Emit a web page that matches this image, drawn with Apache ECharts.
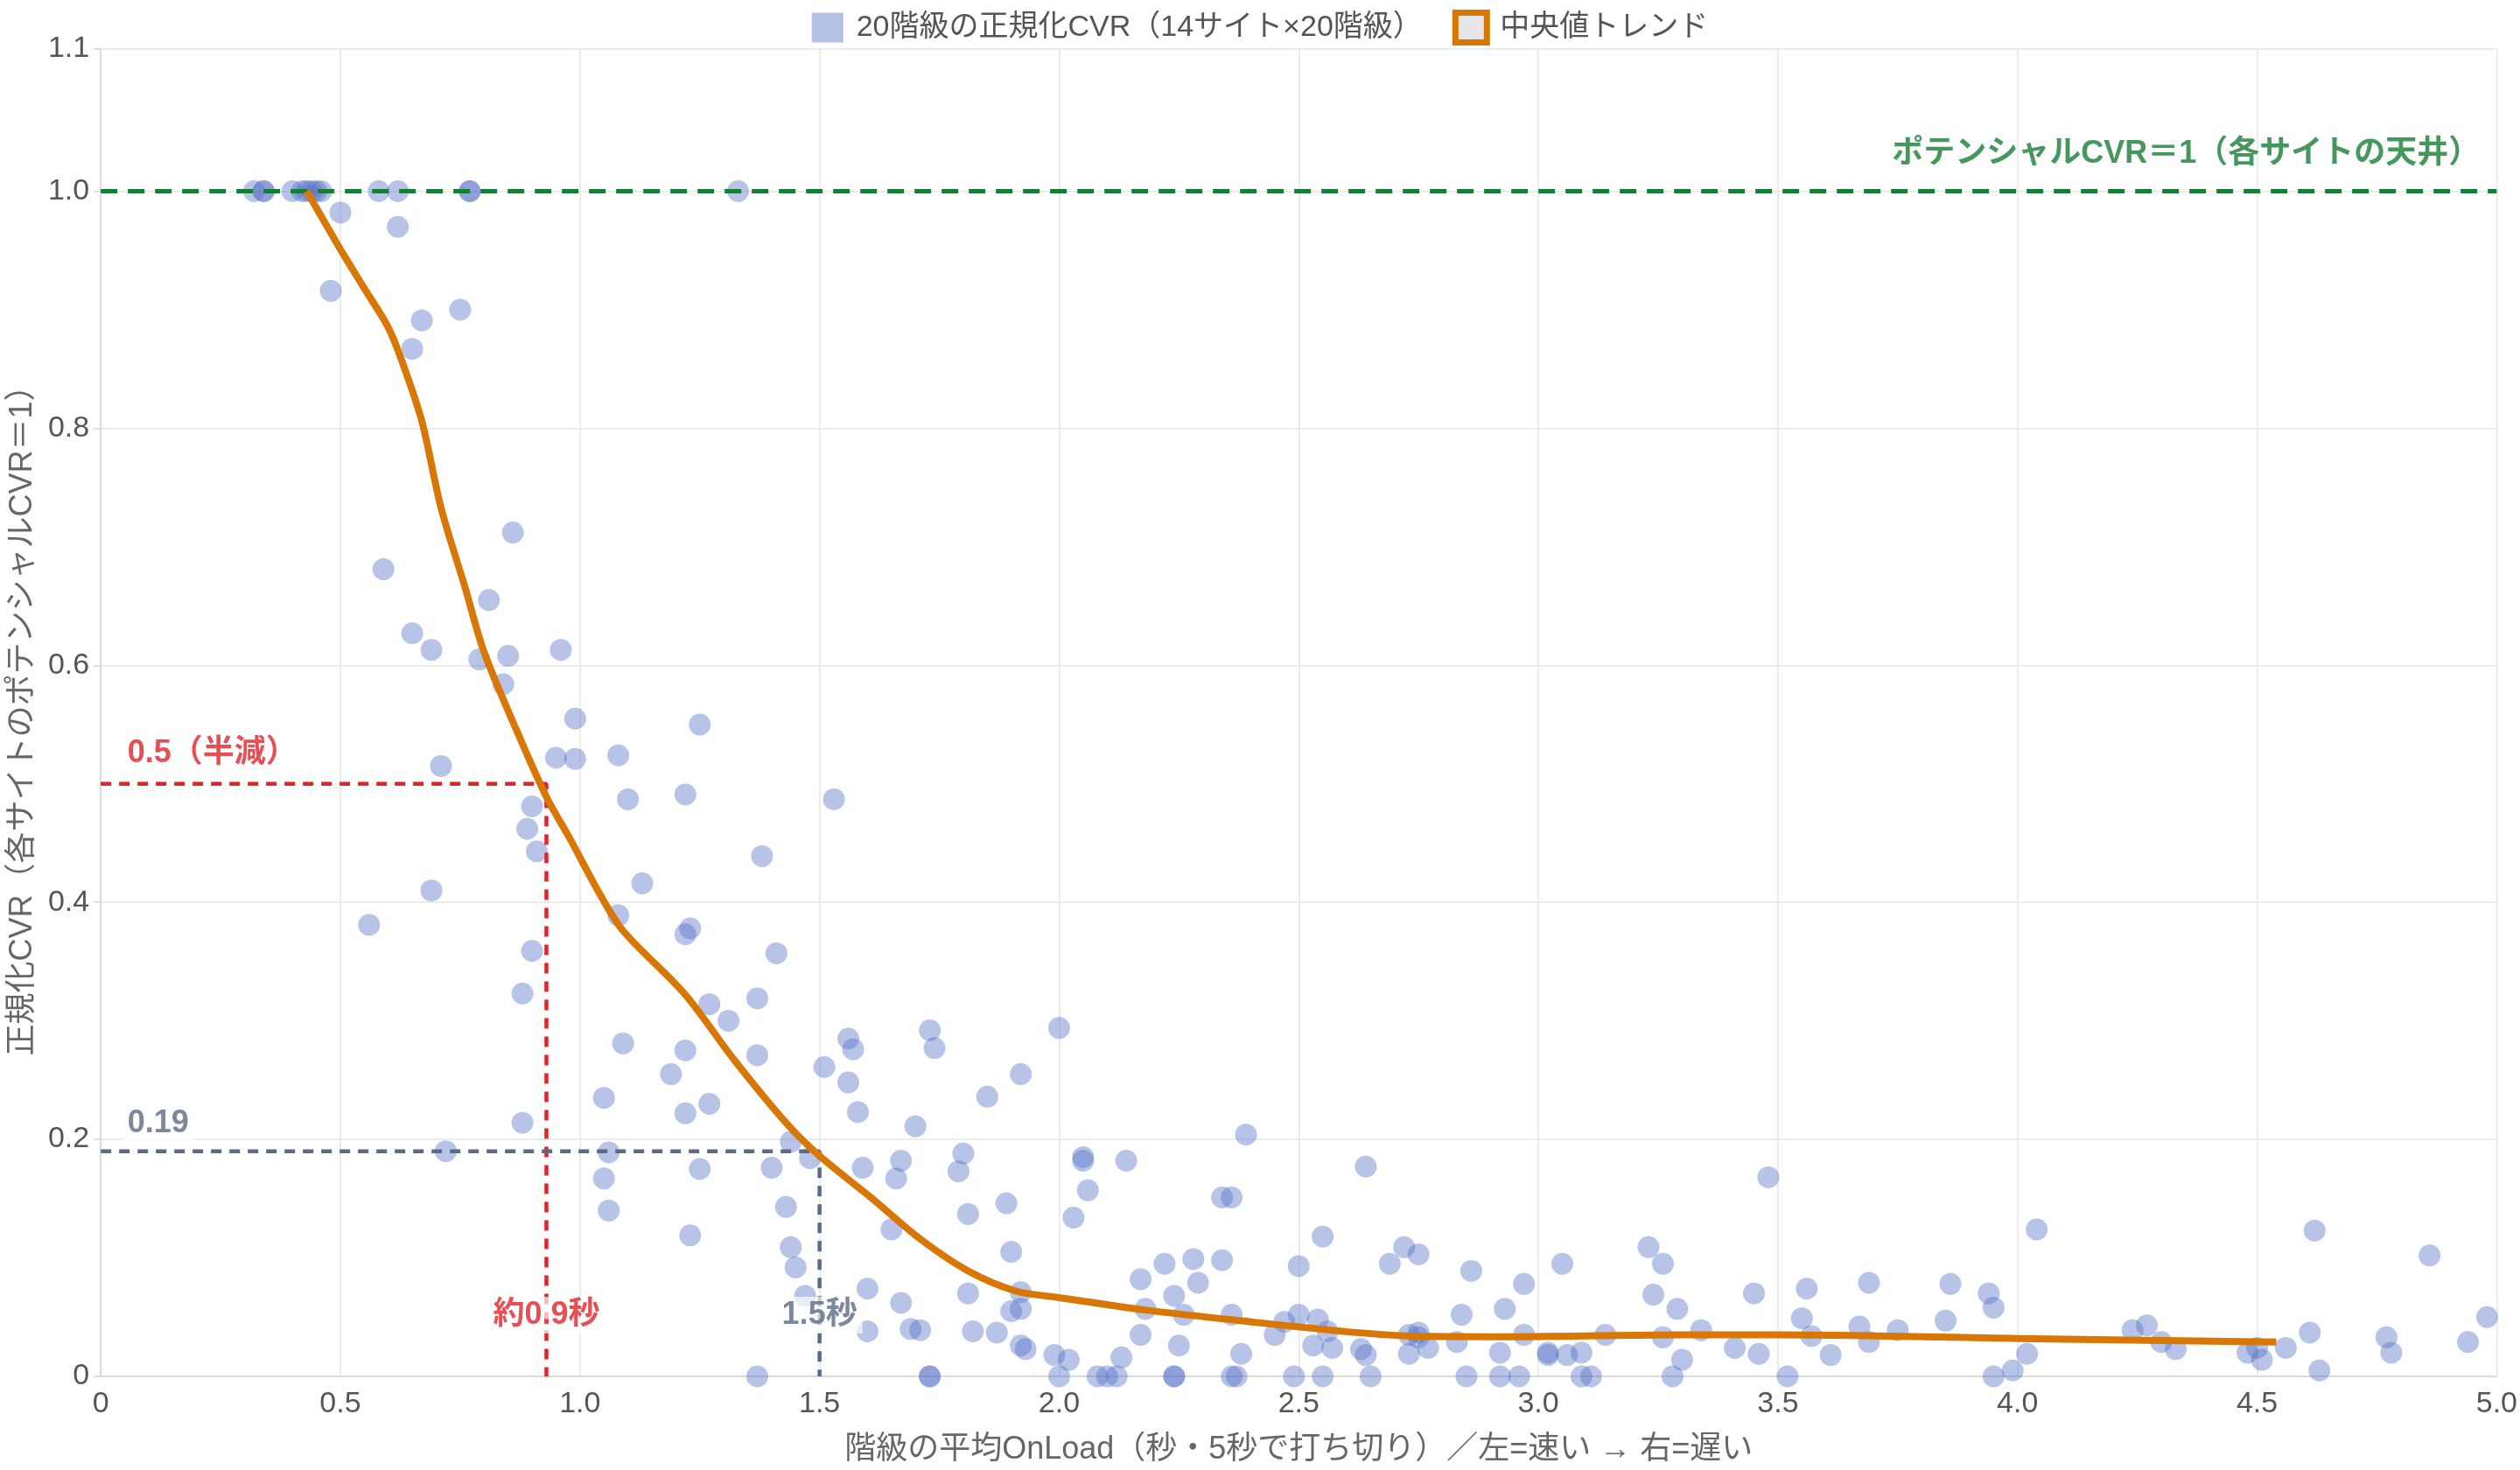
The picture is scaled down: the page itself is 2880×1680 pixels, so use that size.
<!DOCTYPE html>
<html>
<head>
<meta charset="utf-8">
<script src="https://cdn.jsdelivr.net/npm/echarts@6/dist/echarts.min.js"></script>
<style>
  html, body { margin: 0; padding: 0; background: #fff; }
  #main { width: 2880px; height: 1680px; }
</style>
</head>
<body>
<div id="main"></div>
<script>
// scatter: class mean OnLoad (sec) vs normalized CVR
const loadSec = [
  0.32, 0.34, 0.34, 0.40, 0.42, 0.43, 0.44, 0.45, 0.46, 0.58, 0.62, 0.77, 0.77, 1.33,
  0.50, 0.62, 0.48, 0.67, 0.75, 0.65, 0.86, 0.59, 0.81, 0.65, 0.69, 0.79, 0.85, 0.96,
  0.84, 0.99, 1.25, 0.95, 0.99, 1.08, 0.71, 1.10, 1.22, 1.53, 0.90, 0.89, 0.91, 1.38,
  1.13, 0.69, 0.56, 1.08, 1.23, 1.22, 1.41, 0.90, 0.88, 1.27, 1.37, 1.31, 1.09, 1.22,
  1.37, 1.56, 1.57, 1.19, 1.51, 1.56, 1.05, 1.27, 1.22, 1.58, 0.88, 1.70, 1.44, 0.72,
  1.06, 1.48, 1.67, 1.40, 1.25, 1.59, 1.05, 1.66, 1.06, 1.43, 1.65, 1.23, 1.44, 1.45,
  1.60, 1.47, 1.67, 1.60, 1.71, 1.37, 1.73, 1.73,
  1.73, 1.74, 2.00, 1.92, 1.85, 1.80, 1.79, 2.05, 2.05, 2.14, 2.39, 2.64, 1.89, 1.81,
  2.06, 2.03, 2.34, 2.36, 1.90, 2.55, 1.81, 1.92, 1.90, 1.92, 1.69, 1.82, 1.87, 1.92,
  1.93, 1.99, 2.02, 2.00, 2.08, 2.10, 2.12, 2.13, 2.17, 2.18, 2.17, 2.22, 2.28, 2.29,
  2.24, 2.26, 2.25, 2.24, 2.24, 2.34, 2.36, 2.38, 2.36, 2.37, 2.45, 2.47, 2.50, 2.50,
  2.49, 2.54, 2.56, 2.53, 2.57, 2.55, 2.63, 2.64, 2.65, 2.69, 2.72, 2.75, 2.73, 2.75,
  2.75, 2.73, 2.77, 2.86, 2.84, 2.83, 2.85, 2.93, 2.97, 2.97, 2.92, 2.92, 2.96, 3.02,
  3.02, 3.05, 3.06, 3.09, 3.09, 3.11, 3.14, 3.23, 3.26, 3.24, 3.29, 3.26, 3.30, 3.28,
  3.34, 3.48, 3.45, 3.41, 3.46, 3.52, 3.56, 3.55, 3.57, 3.61, 3.69, 3.67, 3.69, 3.75,
  3.86, 3.85, 3.94, 3.95, 3.95, 3.99, 4.02, 4.04, 4.24, 4.27, 4.30, 4.33, 4.48, 4.50,
  4.51, 4.56, 4.61, 4.62, 4.63, 4.77, 4.78, 4.86, 4.94, 4.98
];
const normCvr = [
  1.0, 1.0, 1.0, 1.0, 1.0, 1.0, 1.0, 1.0, 1.0, 1.0, 1.0, 1.0, 1.0, 1.0,
  0.982, 0.970, 0.916, 0.891, 0.900, 0.867, 0.712, 0.681, 0.655, 0.627, 0.613, 0.605, 0.608, 0.613,
  0.584, 0.555, 0.550, 0.522, 0.521, 0.524, 0.515, 0.487, 0.491, 0.487, 0.481, 0.462, 0.443, 0.439,
  0.416, 0.410, 0.381, 0.389, 0.378, 0.373, 0.357, 0.359, 0.323, 0.314, 0.319, 0.300, 0.281, 0.275,
  0.271, 0.285, 0.276, 0.255, 0.261, 0.248, 0.235, 0.230, 0.222, 0.223, 0.214, 0.211, 0.198, 0.190,
  0.189, 0.184, 0.182, 0.176, 0.175, 0.176, 0.167, 0.167, 0.140, 0.143, 0.124, 0.119, 0.109, 0.092,
  0.074, 0.068, 0.062, 0.038, 0.039, 0.0, 0.0, 0.0,
  0.292, 0.277, 0.294, 0.255, 0.236, 0.188, 0.173, 0.185, 0.182, 0.182, 0.204, 0.177, 0.146, 0.137,
  0.157, 0.134, 0.151, 0.151, 0.105, 0.118, 0.070, 0.071, 0.055, 0.057, 0.040, 0.038, 0.037, 0.026,
  0.023, 0.018, 0.014, 0.0, 0.0, 0.0, 0.0, 0.016, 0.082, 0.057, 0.035, 0.095, 0.099, 0.079,
  0.068, 0.052, 0.026, 0.0, 0.0, 0.098, 0.052, 0.019, 0.0, 0.0, 0.035, 0.046, 0.093, 0.052,
  0.0, 0.048, 0.038, 0.026, 0.024, 0.0, 0.023, 0.018, 0.0, 0.095, 0.109, 0.103, 0.035, 0.037,
  0.033, 0.019, 0.024, 0.089, 0.052, 0.029, 0.0, 0.057, 0.078, 0.035, 0.020, 0.0, 0.0, 0.020,
  0.018, 0.095, 0.018, 0.020, 0.0, 0.0, 0.035, 0.109, 0.095, 0.069, 0.057, 0.033, 0.014, 0.0,
  0.039, 0.168, 0.070, 0.024, 0.019, 0.0, 0.074, 0.049, 0.034, 0.018, 0.079, 0.042, 0.029, 0.039,
  0.078, 0.047, 0.070, 0.058, 0.0, 0.005, 0.019, 0.124, 0.039, 0.043, 0.029, 0.023, 0.020, 0.024,
  0.014, 0.024, 0.037, 0.123, 0.005, 0.033, 0.020, 0.102, 0.029, 0.050
];

// median trend
const trendX = [0.43, 0.50, 0.55, 0.60, 0.63, 0.67, 0.71, 0.76, 0.80, 0.87, 0.93, 0.98, 1.04, 1.09,
  1.22, 1.32, 1.43, 1.50, 1.61, 1.71, 1.81, 1.91, 2.00, 2.18, 2.40, 2.62, 2.74, 2.96, 3.30, 3.50, 4.00, 4.54];
const trendY = [1.0, 0.951, 0.918, 0.885, 0.855, 0.806, 0.733, 0.666, 0.611, 0.543, 0.489, 0.453, 0.408, 0.376,
  0.322, 0.268, 0.214, 0.186, 0.150, 0.116, 0.089, 0.072, 0.0665, 0.056, 0.046, 0.037, 0.034, 0.0335, 0.035, 0.035, 0.032, 0.029];

// reference levels
const ceilingLevel = 1.0;
const halfLevel = 0.5, halfTime = 0.93;
const lowLevel = 0.19, lowTime = 1.5;

const xTicks = { min: 0, max: 5, interval: 0.5 };
const yTicks = { min: 0, max: 1.12, interval: 0.2 };

const scatterName = '20階級の正規化CVR（14サイト×20階級）';
const trendName = '中央値トレンド';
const xTitle = '階級の平均OnLoad（秒・5秒で打ち切り）／左=速い → 右=遅い';
const yTitle = '正規化CVR（各サイトのポテンシャルCVR＝1）';

const annotText = ['ポテンシャルCVR＝1（各サイトの天井）', '0.5（半減）', '約0.9秒', '0.19', '1.5秒'];
const annotX = [4.965, 0.045, halfTime, 0.045, lowTime];
const annotY = [ceilingLevel, halfLevel, 0, lowLevel, 0];

const FONT = '"Helvetica Neue", Arial, "Noto Sans CJK JP", sans-serif';
const GREEN = '#177d36', RED = '#e0242b', SLATE = '#5b6b84', ORANGE = '#d97706';

const chart = echarts.init(document.getElementById('main'));

const points = loadSec.map((x, i) => [x, normCvr[i]]);
const trend = trendX.map((x, i) => [x, trendY[i]]);

const annotStyle = [
  { color: GREEN, align: 'right', offset: -42, bg: null },
  { color: RED, align: 'left', offset: -35, bg: '#fff' },
  { color: RED, align: 'center', offset: -70, bg: 'rgba(255,255,255,0.85)' },
  { color: SLATE, align: 'left', offset: -32, bg: '#fff' },
  { color: SLATE, align: 'center', offset: -70, bg: 'rgba(255,255,255,0.85)' }
];
const annotData = annotText.map((t, i) => ({
  value: [annotX[i], annotY[i]],
  label: {
    show: true,
    formatter: t,
    position: [0, annotStyle[i].offset],
    align: annotStyle[i].align,
    verticalAlign: 'middle',
    color: annotStyle[i].color,
    fontWeight: 'bold',
    fontSize: 36,
    fontFamily: FONT,
    backgroundColor: annotStyle[i].bg || 'transparent',
    padding: annotStyle[i].bg ? [3, 6] : 0
  }
}));

const refLine = (data, color, dash, width) => ({
  type: 'line',
  data: data,
  symbol: 'none',
  silent: true,
  z: 4,
  lineStyle: { color: color, type: dash, width: width }
});

const fmt = v => (v === 0 ? '0' : v.toFixed(1));

chart.setOption({
  animation: false,
  textStyle: { fontFamily: FONT },
  legend: {
    top: 6,
    left: 'center',
    itemWidth: 36,
    itemHeight: 34,
    itemGap: 34,
    textStyle: { fontSize: 34, color: '#555', fontFamily: FONT, padding: [0, 0, 0, 10] },
    data: [
      { name: scatterName, icon: 'rect', itemStyle: { color: '#b5c0e6', opacity: 1, borderWidth: 0 } },
      { name: trendName, icon: 'rect', itemStyle: { color: '#e6e6e6', borderColor: ORANGE, borderWidth: 7 } }
    ]
  },
  grid: { left: 115, right: 25, top: 56, bottom: 107, containLabel: false },
  xAxis: {
    type: 'value',
    min: xTicks.min, max: xTicks.max, interval: xTicks.interval,
    name: xTitle,
    nameLocation: 'middle',
    nameGap: 66,
    nameTextStyle: { fontSize: 36, color: '#666', fontFamily: FONT },
    axisLine: { show: true, lineStyle: { color: '#d4d4d4', width: 1.5 } },
    axisTick: { show: false },
    axisLabel: { fontSize: 34, color: '#555', margin: 15, formatter: fmt },
    splitLine: { show: true, lineStyle: { color: '#e6e6e6', width: 1.5 } }
  },
  yAxis: {
    type: 'value',
    min: yTicks.min, max: yTicks.max, interval: yTicks.interval,
    name: yTitle,
    nameLocation: 'middle',
    nameGap: 70,
    nameTextStyle: { fontSize: 36, color: '#666', fontFamily: FONT },
    axisLine: { show: true, lineStyle: { color: '#d4d4d4', width: 1.5 } },
    axisTick: { show: true, length: 8, lineStyle: { color: '#d4d4d4', width: 1.5 } },
    axisLabel: { fontSize: 34, color: '#555', margin: 13, formatter: fmt },
    splitLine: { show: true, lineStyle: { color: '#e6e6e6', width: 1.5 } }
  },
  series: [
    {
      name: scatterName,
      type: 'scatter',
      data: points,
      symbolSize: 25,
      z: 2,
      itemStyle: { color: '#5470c6', opacity: 0.42 }
    },
    refLine([[xTicks.min, ceilingLevel], [xTicks.max, ceilingLevel]], GREEN, [19, 12], 5),
    refLine([[0, halfLevel], [halfTime, halfLevel], [halfTime, 0]], RED, [12, 9], 4.5),
    refLine([[0, lowLevel], [lowTime, lowLevel], [lowTime, 0]], SLATE, [12, 9], 4.5),
    {
      name: trendName,
      type: 'line',
      data: trend,
      smooth: 0.3,
      symbol: 'none',
      z: 5,
      lineStyle: { color: ORANGE, width: 8 },
      itemStyle: { color: ORANGE }
    },
    {
      type: 'scatter',
      data: annotData,
      symbolSize: 0,
      silent: true,
      z: 6
    }
  ]
});
</script>
</body>
</html>
